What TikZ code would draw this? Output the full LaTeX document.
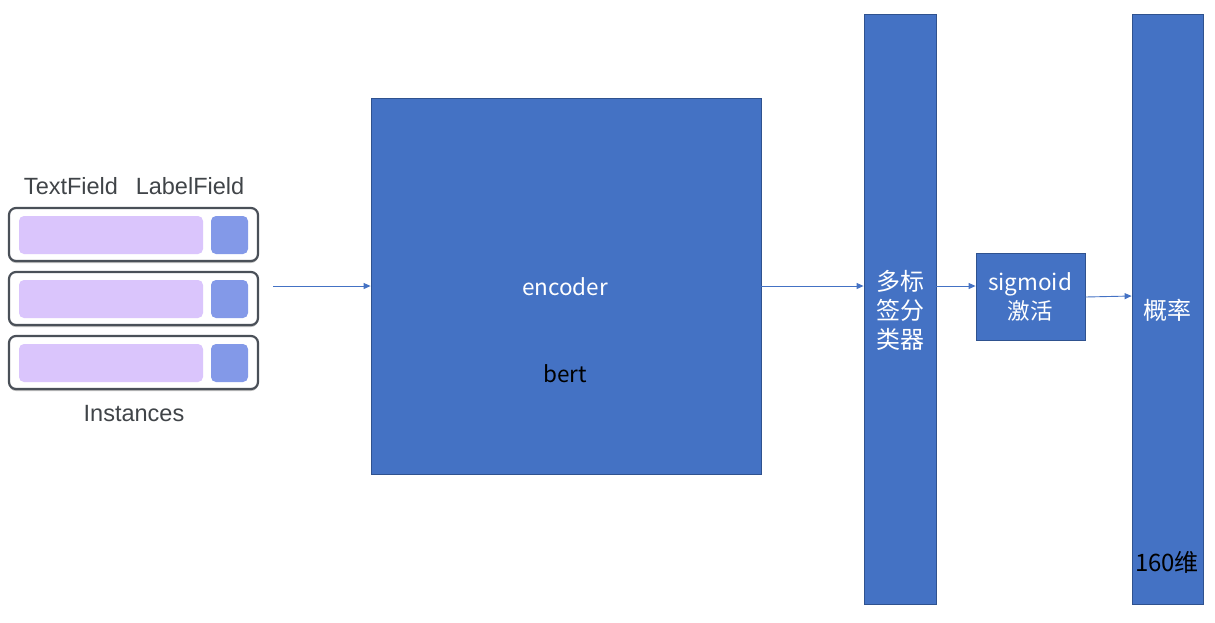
\documentclass[tikz,border=0pt]{standalone}
\usepackage{fontspec}
\setmainfont{Liberation Sans}
\newfontfamily\cjk{Noto Sans CJK SC}
\usetikzlibrary{arrows.meta,shadows}
\definecolor{bluefill}{HTML}{4472C4}
\definecolor{blueline}{HTML}{2F528F}
\definecolor{purp}{HTML}{DAC5FC}
\definecolor{sq}{HTML}{8399E8}
\definecolor{frame}{HTML}{4A5058}
\definecolor{gtext}{HTML}{404448}
\tikzset{
  blk/.style={draw=blueline,fill=bluefill,line width=0.8pt,inner sep=0pt},
  conn/.style={draw=bluefill,line width=0.9pt,-{Triangle[length=7pt,width=6pt]}},
  outer/.style={draw=frame,line width=2.2pt,rounded corners=7pt,fill=white,
    drop shadow={shadow xshift=0pt,shadow yshift=-2pt,opacity=0.25,fill=black}},
  inner/.style={fill=purp,rounded corners=5pt},
  sqr/.style={fill=sq,rounded corners=5pt},
  wt/.style={text=white,font=\cjk\fontsize{24}{29}\selectfont,align=center},
  bk/.style={text=black,font=\cjk\fontsize{24}{29}\selectfont,align=center},
  gt/.style={text=gtext,font=\fontsize{23.5}{26}\selectfont}
}
\begin{document}
\begin{tikzpicture}[x=1pt,y=-1pt]
\useasboundingbox (0,0) rectangle (1215,622);
% instances
\foreach \y [count=\i] in {208,272,336}{
  \draw[outer] (9,\y) rectangle (258,\y+53);
  \fill[inner] (19,\y+8) rectangle (203,\y+46);
  \fill[sqr] (211,\y+8) rectangle (248,\y+46);
}
\node[gt] (tf) at (71,186) {TextField};
\node[gt] (lf) at (190,186) {LabelField};
\node[gt] (inst) at (134,414) {Instances};
\coordinate (src) at (273,286);
% encoder
\node[blk,minimum width=390pt,minimum height=376pt] (enc) at (566,286) {};
\node[wt,font=\cjk\fontsize{22.5}{26}\selectfont] (enct) at (565,287) {encoder};
\node[bk,font=\cjk\fontsize{22.5}{26}\selectfont] (bert) at (565,374) {bert};
% classifier
\node[blk,minimum width=72pt,minimum height=590pt] (cls) at (900,309) {};
\node[wt] (clst) at (900,310) {多标\\签分\\类器};
% sigmoid
\node[blk,minimum width=109pt,minimum height=87pt] (sig) at (1030.5,296.5) {};
\node[wt,font=\cjk\fontsize{22.5}{29}\selectfont] (sigt) at (1030,297) {sigmoid\\激活};
% probability
\node[blk,minimum width=71pt,minimum height=590pt] (prob) at (1167.5,309) {};
\node[wt] (probt) at (1167,310) {概率};
\node[bk] (dim) at (1167,562) {160维};
% connectors
\draw[conn] (src) -- (enc.west|-src);
\draw[conn] (enc.east|-src) -- (cls.west|-src);
\draw[conn] (cls.east|-src) -- (sig.west|-src);
\draw[conn] (sig.east|-{(0,297)}) -- (prob.west|-{(0,296)});
\end{tikzpicture}
\end{document}
